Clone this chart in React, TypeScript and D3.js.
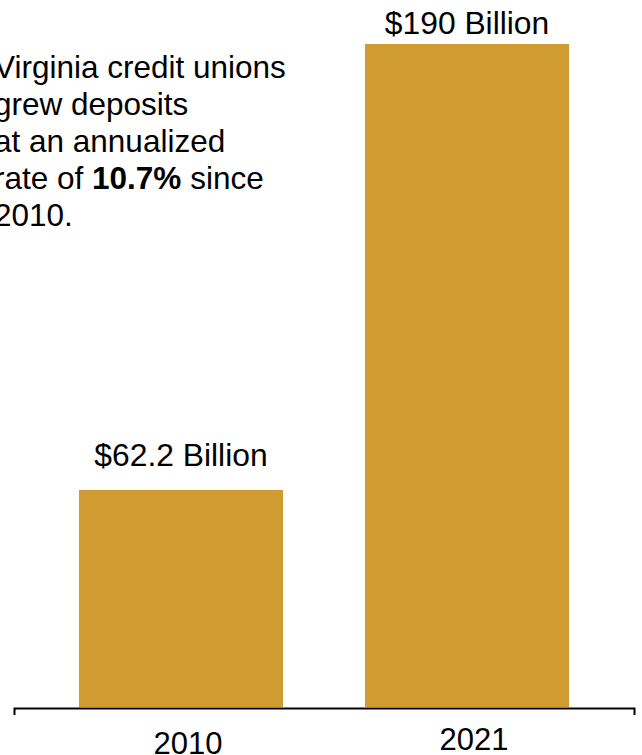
import React, { useEffect, useRef } from "react";
import * as d3 from "d3";

const categories = ["2010", "2021"];
const values = [62.2, 190];
const valueLabels = ["$62.2 Billion", "$190 Billion"];
const noteLines: { text: string; bold?: boolean }[][] = [
  [{ text: "Virginia credit unions" }],
  [{ text: "grew deposits" }],
  [{ text: "at an annualized" }],
  [{ text: "rate of " }, { text: "10.7%", bold: true }, { text: " since" }],
  [{ text: "2010." }],
];

const W = 642;
const H = 755;
const BAR_COLOR = "#D09B30";
const FONT = "'Liberation Sans', Arial, Helvetica, sans-serif";
const yearLabelBaselines = [754, 750];
const YEAR_DX = 7;

export default function App() {
  const ref = useRef<SVGSVGElement>(null);

  useEffect(() => {
    document.body.style.margin = "0";
    const svg = d3.select(ref.current);
    svg.selectAll("*").remove();

    const x = d3
      .scaleBand<string>()
      .domain(categories)
      .range([14, 634])
      .paddingInner(0.2867)
      .paddingOuter(0.227);
    const y = d3.scaleLinear().domain([0, 190]).range([707, 44]);

    const data = categories.map((c, i) => ({ c, v: values[i], label: valueLabels[i], i }));

    svg
      .selectAll("rect.bar")
      .data(data)
      .join("rect")
      .attr("class", "bar")
      .attr("x", (d) => x(d.c)!)
      .attr("y", (d) => y(d.v))
      .attr("width", x.bandwidth())
      .attr("height", (d) => y(0) - y(d.v))
      .attr("fill", BAR_COLOR);

    svg
      .selectAll("text.vlabel")
      .data(data)
      .join("text")
      .attr("class", "vlabel")
      .attr("x", (d) => x(d.c)! + x.bandwidth() / 2)
      .attr("y", (d) => Math.max(y(d.v) - 24, 34))
      .attr("text-anchor", "middle")
      .attr("font-family", FONT)
      .attr("font-size", 31.8)
      .attr("fill", "#000")
      .text((d) => d.label);

    // axis
    const axis = d3.axisBottom(x).tickSizeInner(0).tickSizeOuter(7).tickFormat(() => "");
    const g = svg.append("g").attr("transform", "translate(0,708)").call(axis);
    g.select(".domain").attr("stroke", "#000").attr("stroke-width", 2);
    g.selectAll(".tick").remove();

    svg
      .selectAll("text.xlabel")
      .data(data)
      .join("text")
      .attr("class", "xlabel")
      .attr("x", (d) => x(d.c)! + x.bandwidth() / 2 + YEAR_DX)
      .attr("y", (d) => yearLabelBaselines[d.i])
      .attr("text-anchor", "middle")
      .attr("font-family", FONT)
      .attr("font-size", 31)
      .attr("fill", "#000")
      .text((d) => d.c);

    // annotation
    const note = svg.append("text").attr("font-family", FONT).attr("font-size", 31.5).attr("fill", "#000");
    noteLines.forEach((line, li) => {
      line.forEach((seg, si) => {
        const t = note.append("tspan").text(seg.text);
        if (si === 0) t.attr("x", -6).attr("y", 78 + li * 37);
        if (seg.bold) t.attr("font-weight", "bold");
      });
    });
  }, []);

  return <svg ref={ref} width={W} height={H} style={{ display: "block" }} />;
}
